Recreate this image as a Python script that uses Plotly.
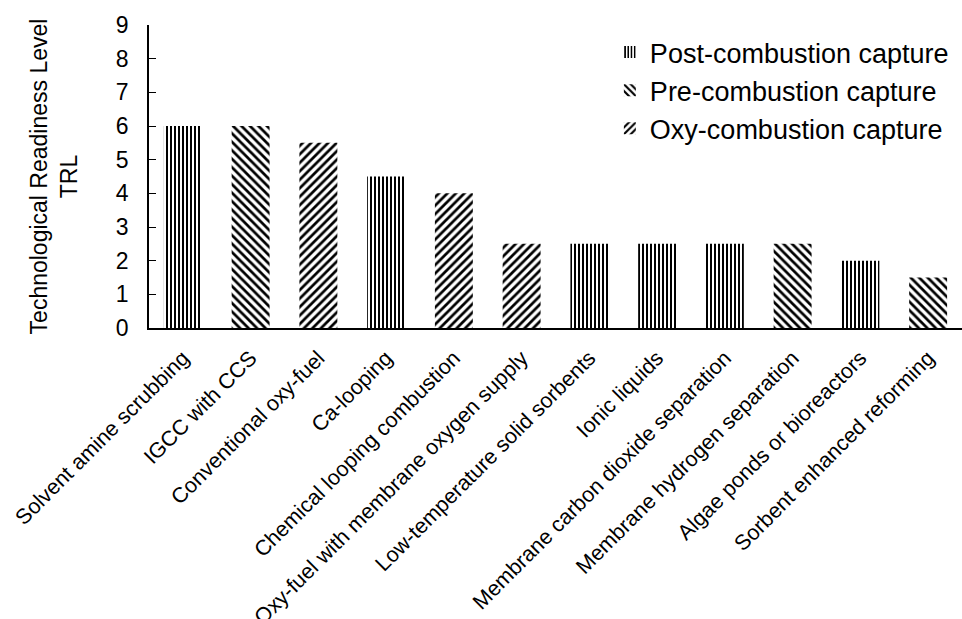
import plotly.graph_objects as go

categories = [
    "Solvent amine scrubbing", "IGCC with CCS", "Conventional oxy-fuel",
    "Ca-looping", "Chemical looping combustion",
    "Oxy-fuel with membrane oxygen supply", "Low-temperature solid sorbents",
    "Ionic liquids", "Membrane carbon dioxide separation",
    "Membrane hydrogen separation", "Algae ponds or bioreactors",
    "Sorbent enhanced reforming",
]
trl = [6, 6, 5.5, 4.5, 4, 2.5, 2.5, 2.5, 2.5, 2.5, 2, 1.5]
capture_type = ["Post", "Pre", "Oxy", "Post", "Oxy", "Oxy", "Post", "Post",
                "Post", "Pre", "Post", "Pre"]

series_names = {"Post": "Post-combustion capture",
                "Pre": "Pre-combustion capture",
                "Oxy": "Oxy-combustion capture"}
patterns = {"Post": ("|", 4, 0.5), "Pre": ("\\", 6, 0.45), "Oxy": ("/", 6, 0.45)}
y_ticks = list(range(0, 10))

fig = go.Figure()
for key in ["Post", "Pre", "Oxy"]:
    xs = [c for c, t in zip(categories, capture_type) if t == key]
    ys = [v for v, t in zip(trl, capture_type) if t == key]
    shape, size, sol = patterns[key]
    fig.add_trace(go.Bar(
        x=xs, y=ys, name=series_names[key],
        marker=dict(color="white", line=dict(width=0),
                    pattern=dict(shape=shape, size=size, solidity=sol,
                                 fgcolor="black", bgcolor="white",
                                 fillmode="replace")),
        width=0.56,
    ))

font_family = "Liberation Sans, Arial, sans-serif"
fig.update_layout(
    width=962, height=619,
    margin=dict(l=149, r=0, t=25, b=291),
    plot_bgcolor="white", paper_bgcolor="white",
    barmode="overlay",
    font=dict(family=font_family, color="black"),
    showlegend=True,
    legend=dict(x=0.99, y=0.99, xanchor="right", yanchor="top",
                font=dict(size=27, family=font_family, color="black"),
                bgcolor="rgba(0,0,0,0)", tracegroupgap=0,
                itemwidth=30),
    xaxis=dict(categoryorder="array", categoryarray=categories,
               tickangle=-45, tickfont=dict(size=21.5),
               showline=True, linecolor="black", linewidth=2,
               ticks="", showgrid=False, zeroline=False,
               ticklabelstandoff=7, automargin=False,
               range=[-0.5, len(categories) - 0.5]),
    yaxis=dict(range=[0, 9], tickvals=y_ticks, ticktext=[str(t) for t in y_ticks],
               tickfont=dict(size=23), ticks="inside", ticklen=7,
               tickcolor="black", tickwidth=1.3,
               showline=True, linecolor="black", linewidth=1.5,
               showgrid=False, zeroline=False, ticklabelstandoff=14,
               automargin=False,
               title=dict(text="Technological Readiness Level<br>TRL",
                          font=dict(size=23), standoff=32)),
)

fig.write_html("out.html")
